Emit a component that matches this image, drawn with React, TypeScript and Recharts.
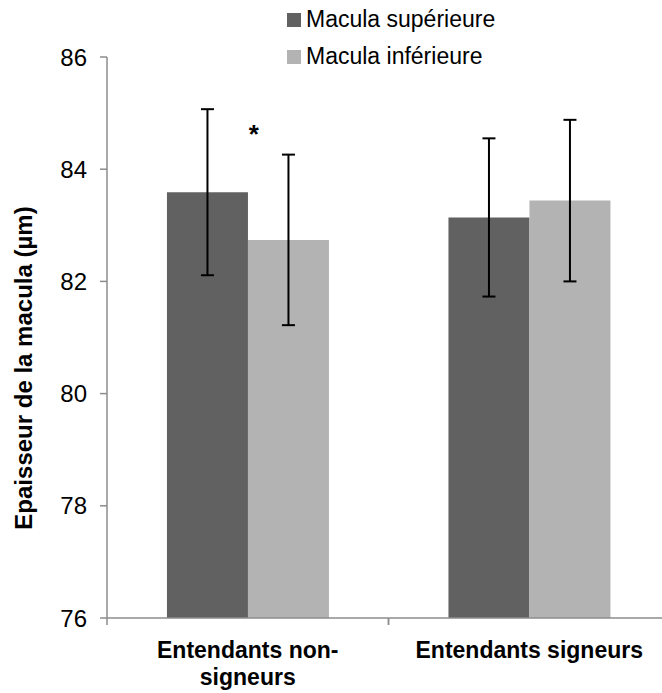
import { BarChart, Bar, XAxis, YAxis, ErrorBar, ReferenceDot } from 'recharts'

const categories = ['Entendants non-signeurs', 'Entendants signeurs']
const tickLines = [['Entendants non-', 'signeurs'], ['Entendants signeurs']]
const seriesNames = ['Macula supérieure', 'Macula inférieure']
const seriesColors = ['#616161', '#b3b3b3']
const supValues = [83.59, 83.14]
const supErrors = [1.48, 1.41]
const infValues = [82.74, 83.44]
const infErrors = [1.52, 1.44]
const yTicks = [76, 78, 80, 82, 84, 86]
const starY = 84.47

const FONT = '"Liberation Sans", Arial, sans-serif'
const AXIS = '#8c8c8c'
const W = 700
const H = 693
const MARGIN = { top: 57, right: 30, left: 0, bottom: 15 }
const Y_AXIS_W = 107
const X_AXIS_H = 60
const AXIS_Y = H - MARGIN.bottom - X_AXIS_H
const BAND = (W - MARGIN.right - Y_AXIS_W) / categories.length

const data = categories.map((name, i) => ({
  name,
  sup: supValues[i],
  supErr: supErrors[i],
  inf: infValues[i],
  infErr: infErrors[i],
}))

function XTick(props: any) {
  const { x, index } = props
  const lines = tickLines[index] ?? []
  const left = x - BAND / 2
  const right = x + BAND / 2
  return (
    <g>
      <line x1={left} x2={left} y1={AXIS_Y} y2={AXIS_Y + 7} stroke={AXIS} strokeWidth={1.5} />
      <line x1={right} x2={right} y1={AXIS_Y} y2={AXIS_Y + 7} stroke={AXIS} strokeWidth={1.5} />
      <text x={x} y={AXIS_Y + 40} textAnchor="middle" fontFamily={FONT} fontWeight="bold" fontSize={23} fill="#000">
        {lines.map((l, i) => (
          <tspan key={i} x={x} dy={i === 0 ? 0 : 27}>{l}</tspan>
        ))}
      </text>
    </g>
  )
}

function YLabel() {
  const cx = 32
  const cy = 368
  return (
    <text
      x={cx}
      y={cy}
      transform={`rotate(-90 ${cx} ${cy})`}
      textAnchor="middle"
      fontFamily={FONT}
      fontWeight="bold"
      fontSize={24}
      fill="#000"
    >
      Epaisseur de la macula (µm)
    </text>
  )
}

function Star(props: any) {
  const vb = props.viewBox ?? {}
  const cx = (vb.x ?? 0) + (vb.width ?? 0) / 2
  const cy = (vb.y ?? 0) + (vb.height ?? 0) / 2
  return (
    <text x={cx + 6} y={cy} textAnchor="middle" fontFamily={FONT} fontWeight="bold" fontSize={26} fill="#000">
      *
    </text>
  )
}

export default function App() {
  return (
    <div style={{ position: 'fixed', top: 0, left: 0, width: 662, height: 693, overflow: 'hidden', background: '#fff' }}>
      <BarChart width={W} height={H} data={data} margin={MARGIN} barCategoryGap="21.3%" barGap={0}>
        <XAxis
          dataKey="name"
          height={X_AXIS_H}
          axisLine={{ stroke: AXIS, strokeWidth: 1.5 }}
          tickLine={false}
          tick={<XTick />}
          interval={0}
        />
        <YAxis
          width={Y_AXIS_W}
          domain={[76, 86]}
          ticks={yTicks}
          allowDataOverflow
          axisLine={{ stroke: AXIS, strokeWidth: 1.5 }}
          tickLine={{ stroke: AXIS, strokeWidth: 1.5 }}
          tickSize={7}
          tickMargin={13}
          tick={{ fill: '#000', fontSize: 24, fontFamily: FONT }}
          label={<YLabel />}
        />
        <Bar dataKey="sup" name={seriesNames[0]} fill={seriesColors[0]} isAnimationActive={false}>
          <ErrorBar dataKey="supErr" width={6.5} stroke="#000" strokeWidth={2} />
        </Bar>
        <Bar dataKey="inf" name={seriesNames[1]} fill={seriesColors[1]} isAnimationActive={false}>
          <ErrorBar dataKey="infErr" width={6.5} stroke="#000" strokeWidth={2} />
        </Bar>
        <ReferenceDot x={categories[0]} y={starY} r={1} fill="none" stroke="none" label={<Star />} />
      </BarChart>
      <div style={{ position: 'absolute', top: 1, left: 287, fontFamily: FONT, fontSize: 23, color: '#000' }}>
        {seriesNames.map((n, i) => (
          <div key={n} style={{ display: 'flex', alignItems: 'center', height: 37, whiteSpace: 'nowrap' }}>
            <span style={{ display: 'inline-block', width: 14, height: 14, background: seriesColors[i], marginRight: 5 }} />
            <span style={{ lineHeight: '37px' }}>{n}</span>
          </div>
        ))}
      </div>
    </div>
  )
}
